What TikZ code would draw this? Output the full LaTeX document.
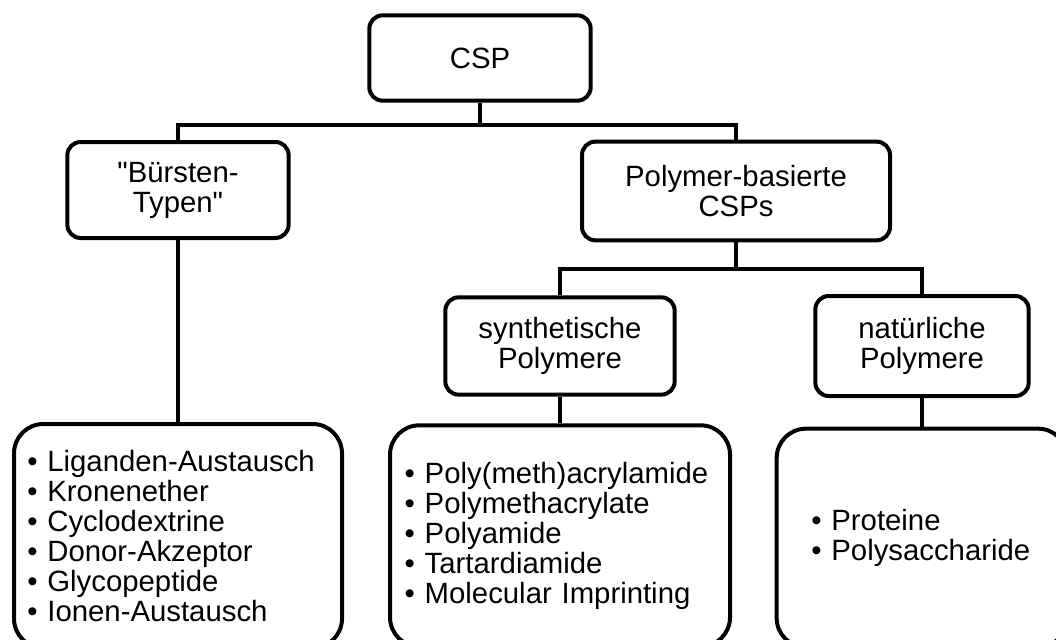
\documentclass[tikz,border=0pt]{standalone}
\usepackage{fontspec}
\setmainfont{Liberation Sans}[Ligatures=TeXOff]
\usetikzlibrary{positioning}
\tikzset{
	boxnode/.style={
			shape=rectangle,
			draw=black,
			line width=3pt,
			rounded corners=10pt,
			fill=white,
			align=center,
			inner sep=0pt,
			font=\fontsize{22}{22.5}\selectfont
		},
	listnode/.style={
			boxnode,
			rounded corners=22pt,
			align=left
		}
}
\tikzset{
	connector/.style={line width=3pt}
}

\begin{document}
\begin{tikzpicture}[x=0.75pt, y=-0.75pt]

  \useasboundingbox (0,0) rectangle (1056,639);
  \clip (0,0) rectangle (1056,639);

  \node[boxnode, minimum width=166pt, minimum height=64pt] (csp) at (480,58) {CSP};
  \node[boxnode, minimum width=166pt, minimum height=72pt] (bur) at (178,190) {"Bürsten-\\Typen"};
  \node[boxnode, minimum width=231pt, minimum height=74pt] (poly) at (736,191) {Polymer-basierte\\CSPs};
  \node[boxnode, minimum width=172pt, minimum height=73pt] (syn) at (560,346) {synthetische\\Polymere};
  \node[boxnode, minimum width=160pt, minimum height=75pt] (nat) at (922,346) {natürliche\\Polymere};

  \node[listnode, minimum width=244pt, minimum height=168pt, inner xsep=10pt, text width=226pt] (lst1) at (178,536)
    {• Liganden-Austausch\\• Kronenether\\• Cyclodextrine\\• Donor-Akzeptor\\• Glycopeptide\\• Ionen-Austausch\\[6pt]};
  \node[listnode, minimum width=255pt, minimum height=166pt, inner xsep=11pt, text width=233pt] (lst2) at (560,536)
    {• Poly(meth)acrylamide\\• Polymethacrylate\\• Polyamide\\• Tartardiamide\\• Molecular Imprinting};
  \node[listnode, minimum width=218pt, minimum height=164pt, inner xsep=26pt, text width=166pt] (lst3) at (922,538)
    {• Proteine\\• Polysaccharide};

  \coordinate (j1) at (480,125);
  \coordinate (j2) at (736,269);

  \draw[connector] (csp.south) -- (j1);
  \draw[connector] (bur.north) |- (j1) -| (poly.north);
  \draw[connector] (poly.south) -- (j2);
  \draw[connector] (syn.north) |- (j2) -| (nat.north);
  \draw[connector] (bur.south) -- (lst1.north);
  \draw[connector] (syn.south) -- (lst2.north);
  \draw[connector] (nat.south) -- (lst3.north);

\end{tikzpicture}
\end{document}
